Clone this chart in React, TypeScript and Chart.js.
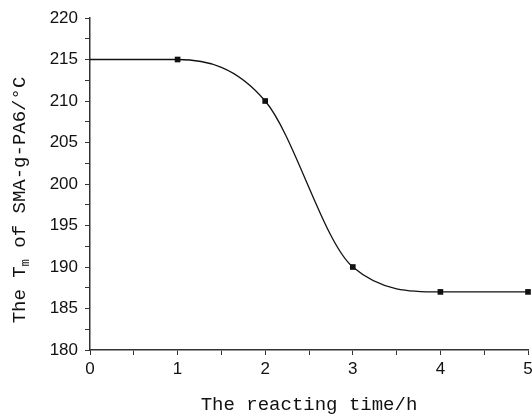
import React, { useEffect, useRef } from "react";
import { Chart, registerables } from "chart.js";

Chart.register(...registerables);

const times = [0, 1, 2, 3, 4, 5];
const tmValues = [215, 215, 210, 190, 187, 187];
const markerRadius = [0, 4, 4, 4, 4, 4];
const xTickLabels = ["0", "1", "2", "3", "4", "5"];
const yTickLabels = ["180", "185", "190", "195", "200", "205", "210", "215", "220"];
const xTitle = "The reacting time/h";
const yTitleParts = ["The T", "m", " of SMA-g-PA6/°C"];

const yTitlePlugin = {
  id: "yTitleSub",
  afterDraw(chart: any) {
    const ctx = chart.ctx;
    const big = "19px 'Liberation Mono', 'DejaVu Sans Mono', monospace";
    const small = "12px 'Liberation Mono', 'DejaVu Sans Mono', monospace";
    ctx.save();
    ctx.fillStyle = "#111";
    ctx.textBaseline = "middle";
    ctx.textAlign = "left";
    ctx.font = big;
    const w0 = ctx.measureText(yTitleParts[0]).width;
    const w2 = ctx.measureText(yTitleParts[2]).width;
    ctx.font = small;
    const w1 = ctx.measureText(yTitleParts[1]).width;
    const total = w0 + w1 + w2;
    ctx.translate(20, 200);
    ctx.rotate(-Math.PI / 2);
    let x = -total / 2;
    ctx.font = big;
    ctx.fillText(yTitleParts[0], x, 0);
    x += w0;
    ctx.font = small;
    ctx.fillText(yTitleParts[1], x, 6);
    x += w1;
    ctx.font = big;
    ctx.fillText(yTitleParts[2], x, 0);
    ctx.restore();
  },
};

export default function App() {
  const ref = useRef<HTMLCanvasElement | null>(null);
  useEffect(() => {
    if (!ref.current) return;
    const tickFont = { family: "'Liberation Sans', Arial, sans-serif", size: 17 };
    const chart = new Chart(ref.current, {
      type: "line",
      data: {
        datasets: [
          {
            data: times.map((t, i) => ({ x: t, y: tmValues[i] })),
            borderColor: "#111",
            backgroundColor: "#111",
            borderWidth: 1.3,
            pointStyle: "rect",
            pointRadius: markerRadius,
            pointHoverRadius: markerRadius,
            pointBorderWidth: 0,
            cubicInterpolationMode: "monotone",
            fill: false,
            clip: 10,
          } as any,
        ],
      },
      options: {
        animation: false,
        responsive: false,
        maintainAspectRatio: false,
        events: [],
        layout: { padding: { top: 18, right: 1, left: 0, bottom: 0 } },
        plugins: { legend: { display: false }, tooltip: { enabled: false } },
        scales: {
          x: {
            type: "linear",
            min: 0,
            max: 5,
            afterFit: (s: any) => {
              s.height = 68;
              s.paddingLeft = 0;
              s.paddingRight = 0;
            },
            ticks: {
              stepSize: 0.5,
              autoSkip: false,
              maxRotation: 0,
              color: "#111",
              font: tickFont,
              padding: 4,
              callback: (v: any) => {
                const i = times.indexOf(Number(v));
                return Number.isInteger(Number(v)) && i >= 0 ? xTickLabels[i] : "";
              },
            },
            grid: {
              drawOnChartArea: false,
              drawTicks: true,
              tickLength: 5,
              tickColor: "#333",
            },
            border: { color: "#333", width: 1.5 },
            title: {
              display: true,
              text: xTitle,
              color: "#111",
              font: { family: "'Liberation Mono', 'DejaVu Sans Mono', monospace", size: 19 },
              padding: { top: 0, bottom: 2 },
            },
          },
          y: {
            min: 180,
            max: 220,
            afterFit: (s: any) => {
              s.width = 90;
              s.paddingTop = 0;
              s.paddingBottom = 0;
            },
            ticks: {
              stepSize: 2.5,
              autoSkip: false,
              color: "#111",
              font: tickFont,
              padding: 7,
              callback: (v: any) => {
                const n = Number(v);
                if (n % 5 !== 0) return "";
                const idx = (n - 180) / 5;
                return yTickLabels[idx] ?? "";
              },
            },
            grid: {
              drawOnChartArea: false,
              drawTicks: true,
              tickLength: 5,
              tickColor: "#333",
            },
            border: { color: "#333", width: 1.5 },
          },
        },
      },
      plugins: [yTitlePlugin],
    });
    return () => chart.destroy();
  }, []);
  return (
    <div style={{ position: "fixed", left: 0, top: 0, width: 532, height: 418, overflow: "hidden", background: "#fff" }}>
      <canvas ref={ref} width={532} height={418} style={{ display: "block" }} />
    </div>
  );
}
